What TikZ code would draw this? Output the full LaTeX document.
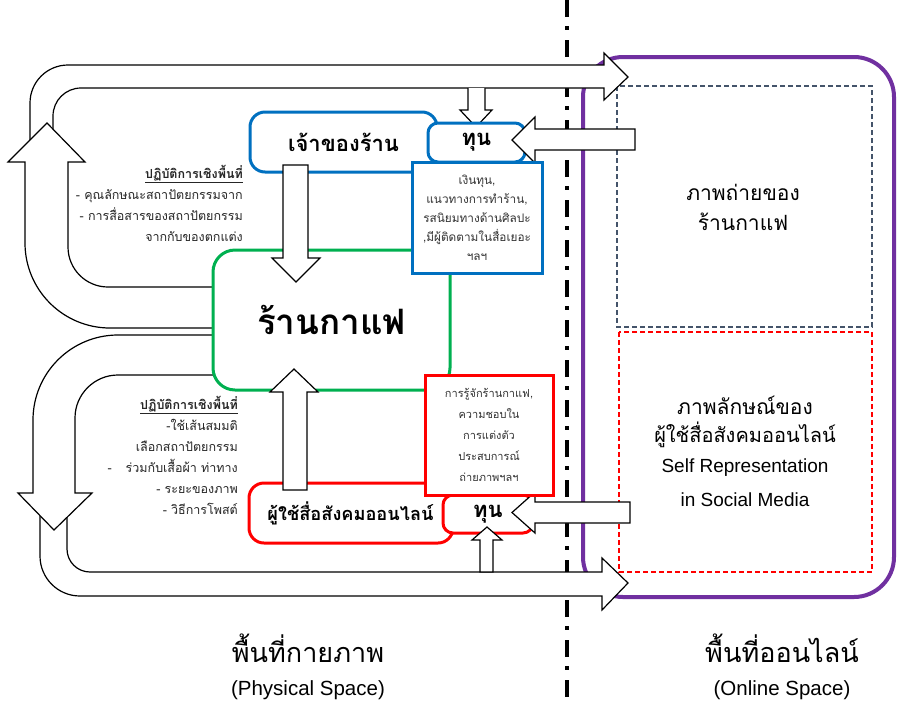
\documentclass[tikz,border=0pt]{standalone}
\usepackage{fontspec}
\setmainfont{Liberation Sans}
\newfontfamily\thai[Script=Thai]{Loma}
\definecolor{cgreen}{HTML}{00B050}
\definecolor{cblue}{HTML}{0070C0}
\definecolor{cred}{HTML}{FF0000}
\definecolor{cpurple}{HTML}{7030A0}
\definecolor{cslate}{HTML}{44546A}
\begin{document}
\begin{tikzpicture}[x=1pt,y=-1pt,
  band/.style={draw=black, fill=white, line width=1.2pt, line join=miter},
  rbox/.style={draw, fill=white, line width=3pt, rounded corners=#1, inner sep=0pt},
  tbox/.style={draw, fill=white, line width=3pt, inner sep=0pt, align=center},
  lbl/.style={inner sep=0pt, align=center},
  dbox/.style={line width=1.2pt, dash pattern=on 5pt off 3pt},
  side/.style={inner sep=0pt, align=right, anchor=east, font=\thai\fontsize{12.5}{21}\selectfont, text=black!85}
]
\useasboundingbox (0,0) rectangle (897,705);
\fill[white] (0,0) rectangle (897,705);

% divider
\draw[line width=4pt, dash pattern=on 17pt off 9pt on 4pt off 10pt] (567,0) -- (567,705);

% online space
\draw[cpurple, line width=4pt, rounded corners=40pt] (583,57) rectangle (894,597);
\draw[cslate, dbox] (617,86) rectangle (872,327);
\draw[cred, dbox] (619,332) rectangle (872,572);
\node[lbl, font=\thai\fontsize{21}{30}\selectfont] (photo) at (743,207) {ภาพถ่ายของ\\ร้านกาแฟ};
\node[lbl, font=\thai\fontsize{21}{30}\selectfont] (img1) at (745,405) {ภาพลักษณ์ของ};
\node[lbl, font=\thai\fontsize{20}{30}\selectfont] (img2) at (745,435) {ผู้ใช้สื่อสังคมออนไลน์};
\node[lbl, font=\fontsize{19}{22}\selectfont] (img3) at (745,468) {Self Representation};
\node[lbl, font=\fontsize{19}{22}\selectfont] (img4) at (745,500) {in Social Media};

% upper loop
\draw[band] (30,175) -- (30,103) arc[start angle=180,end angle=270,radius=38]
  -- (604,65) -- (604,53) -- (628,77) -- (604,100) -- (604,88) -- (81,88)
  arc[start angle=270,end angle=180,radius=28] -- (53,175) -- cycle;
\draw[band] (230,287) -- (108,287) arc[start angle=90,end angle=180,radius=40]
  -- (68,162) -- (85,162) -- (47,123) -- (8,162) -- (25,162) -- (25,243)
  arc[start angle=180,end angle=90,radius=85] -- (230,328) -- cycle;

% lower loop
\draw[band] (40,505) -- (40,556) arc[start angle=180,end angle=90,radius=40]
  -- (602,596) -- (602,610) -- (628,583) -- (602,558) -- (602,572) -- (90,572)
  arc[start angle=90,end angle=180,radius=23] -- (67,505) -- cycle;
\draw[band] (230,335) -- (118,335) arc[start angle=270,end angle=180,radius=85]
  -- (33,493) -- (18,493) -- (54,530) -- (92,493) -- (75,493) -- (75,418)
  arc[start angle=180,end angle=270,radius=43] -- (230,375) -- cycle;

% side texts
\node[side] (prac1) at (243,203) {\textbf{\underline{ปฏิบัติการเชิงพื้นที่}}\\- คุณลักษณะสถาปัตยกรรมจาก\\- การสื่อสารของสถาปัตยกรรม\\จากกับของตกแต่ง};
\node[side] (prac2) at (238,455.5) {\textbf{\underline{ปฏิบัติการเชิงพื้นที่}}\\-ใช้เส้นสมมติ\\เลือกสถาปัตยกรรม\\-\hspace{14pt}ร่วมกับเสื้อผ้า ท่าทาง\\- ระยะของภาพ\\- วิธีการโพสต์};

% cafe
\node[rbox=22pt, draw=cgreen, minimum width=237pt, minimum height=140pt, font=\thai\bfseries\fontsize{35}{40}\selectfont] (cafe) at (331.5,320) {ร้านกาแฟ};

% owner
\node[rbox=15pt, draw=cblue, minimum width=187pt, minimum height=60pt] (owner) at (343.5,142) {};
\node[lbl, font=\thai\bfseries\fontsize{22}{26}\selectfont] (ownert) at (343.5,142) {เจ้าของร้าน};
\draw[band] (283,165) -- (283,258) -- (272,258) -- (296,282) -- (320,258) -- (308,258) -- (308,165) -- cycle;

% user
\node[rbox=15pt, draw=cred, minimum width=204pt, minimum height=60pt] (user) at (351,513) {};
\node[lbl, font=\thai\bfseries\fontsize{18.2}{24}\selectfont] (usert) at (350.5,513) {ผู้ใช้สื่อสังคมออนไลน์};
\draw[band] (283,490) -- (283,392) -- (270,392) -- (294,369) -- (318,392) -- (307,392) -- (307,490) -- cycle;

% capital top
\draw[band] (468,88) -- (468,110) -- (460,110) -- (476,127) -- (492,110) -- (485,110) -- (485,88);
\node[rbox=10pt, draw=cblue, minimum width=97pt, minimum height=39pt, font=\thai\bfseries\fontsize{22}{26}\selectfont] (cap1) at (476.5,142.5) {ทุน};
\draw[band] (635,129) -- (535,129) -- (535,117) -- (512,140) -- (535,163) -- (535,150) -- (635,150) -- cycle;
\node[tbox, draw=cblue, minimum width=130pt, minimum height=111pt, font=\thai\fontsize{11.8}{19}\selectfont, text=black!80] (capt1) at (477,217.5) {เงินทุน,\\แนวทางการทำร้าน,\\รสนิยมทางด้านศิลปะ\\,มีผู้ติดตามในสื่อเยอะ\\ฯลฯ};

% capital bottom
\node[rbox=10pt, draw=cred, minimum width=90pt, minimum height=38pt, font=\thai\bfseries\fontsize{22}{26}\selectfont] (cap2) at (488,514) {ทุน};
\draw[band] (480,572) -- (480,540) -- (472,540) -- (487,527) -- (502,540) -- (493,540) -- (493,572) -- cycle;
\draw[band] (630,502) -- (535,502) -- (535,492) -- (512,512.5) -- (535,533) -- (535,523) -- (630,523) -- cycle;
\node[tbox, draw=cred, minimum width=128pt, minimum height=120pt, font=\thai\fontsize{11}{21}\selectfont, text=black!80] (capt2) at (489,435) {การรู้จักร้านกาแฟ,\\ความชอบใน\\การแต่งตัว\\ประสบการณ์\\ถ่ายภาพฯลฯ};

% space labels
\node[lbl, font=\thai\fontsize{27}{30}\selectfont] (phys) at (308,648) {พื้นที่กายภาพ};
\node[lbl, font=\fontsize{20.5}{22}\selectfont] (physen) at (308,690) {(Physical Space)};
\node[lbl, font=\thai\fontsize{27}{30}\selectfont] (onl) at (782,648) {พื้นที่ออนไลน์};
\node[lbl, font=\fontsize{20.5}{22}\selectfont] (onlen) at (782,690) {(Online Space)};
\end{tikzpicture}
\end{document}
